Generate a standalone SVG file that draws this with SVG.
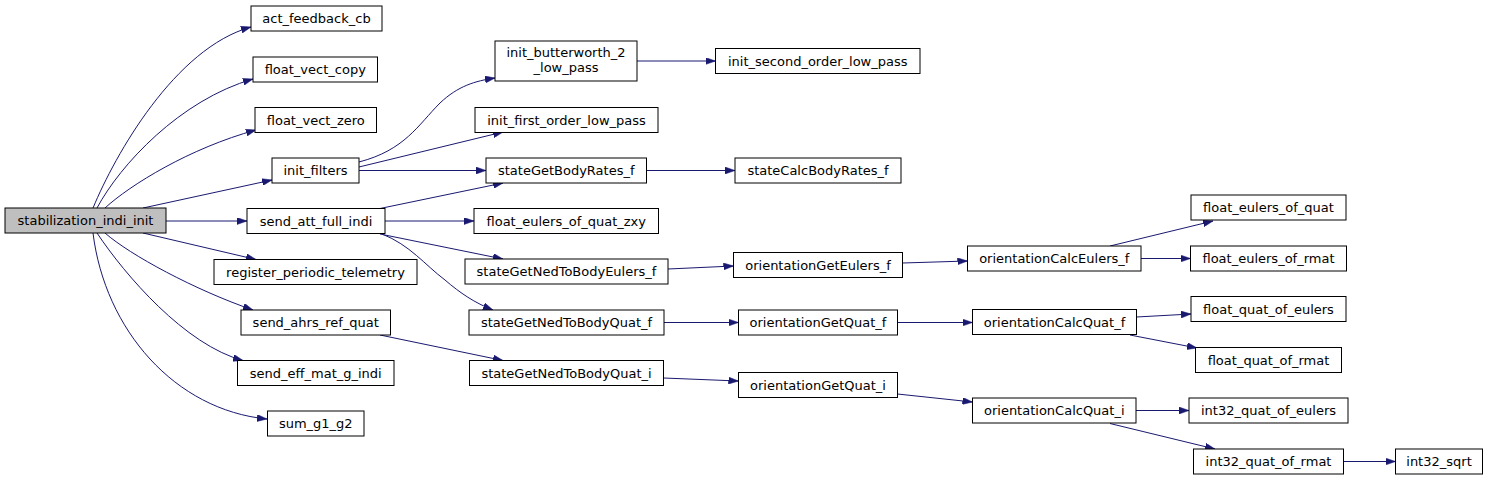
<svg xmlns="http://www.w3.org/2000/svg" width="1488" height="480" viewBox="0 0 1488 480">
<style>
.n rect{fill:#fff;stroke:#000;stroke-width:1}
.n.root rect{fill:#bfbfbf}
.n text{font-family:"DejaVu Sans","Liberation Sans",sans-serif;font-size:13px;fill:#000;text-anchor:middle}
.e path{fill:none;stroke:#191970;stroke-width:1;marker-end:url(#ah)}
</style>
<defs>
<marker id="ah" viewBox="0 0 10 7" refX="10" refY="3.5" markerWidth="10" markerHeight="7" orient="auto" markerUnits="userSpaceOnUse">
<path d="M0,0 L10,3.5 L0,7 z" fill="#191970" stroke="#191970" stroke-width="0.5"/>
</marker>
</defs>
<rect width="1488" height="480" fill="#fff"/>
<g id="edges" class="e">
<path d="M93,208 C115,155 175,48 251,27"/>
<path d="M97,208 C120,165 180,100 253,79"/>
<path d="M105,208 C130,185 190,148 256,130"/>
<path d="M143,208 L272,180"/>
<path d="M166,221 L247,221"/>
<path d="M143,233 L256,259.5"/>
<path d="M105,233 C130,255 195,290 253,310"/>
<path d="M97,233 C125,275 185,345 243,360.5"/>
<path d="M93,233 C105,330 175,410 267,419"/>
<path d="M359,162 C405,150 418,125 440,103 C458,86 475,81 495,78"/>
<path d="M359,167 L503,132"/>
<path d="M359,170.5 L486,170.5"/>
<path d="M380,208.5 L503,183"/>
<path d="M385,221 L474,221"/>
<path d="M380,234 L503,259"/>
<path d="M382,234 C410,245 425,265 445,280 C460,293 475,303 493,310"/>
<path d="M380,335 L503,360.5"/>
<path d="M637,61 L715.5,61"/>
<path d="M646.5,170.5 L735,170.5"/>
<path d="M668,269 L733.5,266"/>
<path d="M664,322.5 L738.5,322.5"/>
<path d="M663.5,378 L738.5,381"/>
<path d="M902.5,263 L967.5,261"/>
<path d="M897.5,322.5 L972.5,322.5"/>
<path d="M897.5,394 L972.5,402"/>
<path d="M1110,246 L1213,221"/>
<path d="M1141,258.5 L1190.5,258.5"/>
<path d="M1136.5,317 L1191,314"/>
<path d="M1130,335 L1197,348"/>
<path d="M1136,410.5 L1189,410.5"/>
<path d="M1110,423.5 L1215,449"/>
<path d="M1343.5,461.5 L1395.5,461.5"/>
</g>
<g id="stabilization_indi_init" class="n root"><rect x="5" y="208" width="161" height="25"/><text x="85.5" y="225">stabilization_indi_init</text></g>
<g id="act_feedback_cb" class="n"><rect x="251" y="6" width="131" height="25"/><text x="316.5" y="23">act_feedback_cb</text></g>
<g id="float_vect_copy" class="n"><rect x="253" y="57" width="124.5" height="25"/><text x="315.25" y="74">float_vect_copy</text></g>
<g id="float_vect_zero" class="n"><rect x="255" y="107.5" width="121.5" height="25"/><text x="315.75" y="124.5">float_vect_zero</text></g>
<g id="init_filters" class="n"><rect x="272" y="158" width="87" height="25"/><text x="315.5" y="175">init_filters</text></g>
<g id="send_att_full_indi" class="n"><rect x="247" y="208.5" width="138" height="25"/><text x="316" y="225.5">send_att_full_indi</text></g>
<g id="register_periodic_telemetry" class="n"><rect x="214" y="259.5" width="203" height="25"/><text x="315.5" y="276.5">register_periodic_telemetry</text></g>
<g id="send_ahrs_ref_quat" class="n"><rect x="241" y="310" width="149.5" height="25"/><text x="315.75" y="327">send_ahrs_ref_quat</text></g>
<g id="send_eff_mat_g_indi" class="n"><rect x="237.5" y="360.5" width="156.5" height="25"/><text x="315.75" y="377.5">send_eff_mat_g_indi</text></g>
<g id="sum_g1_g2" class="n"><rect x="267.5" y="411" width="96.5" height="25"/><text x="315.75" y="428">sum_g1_g2</text></g>
<g id="init_butterworth_2_low_pass" class="n"><rect x="495" y="41" width="142" height="40"/><text x="566" y="57">init_butterworth_2</text><text x="566" y="72">_low_pass</text></g>
<g id="init_first_order_low_pass" class="n"><rect x="475" y="107.5" width="183" height="25"/><text x="566.5" y="124.5">init_first_order_low_pass</text></g>
<g id="stateGetBodyRates_f" class="n"><rect x="486" y="158" width="160.5" height="25"/><text x="566.25" y="175">stateGetBodyRates_f</text></g>
<g id="float_eulers_of_quat_zxy" class="n"><rect x="474" y="208.5" width="184.5" height="25"/><text x="566.25" y="225.5">float_eulers_of_quat_zxy</text></g>
<g id="stateGetNedToBodyEulers_f" class="n"><rect x="465" y="259" width="203" height="25"/><text x="566.5" y="276">stateGetNedToBodyEulers_f</text></g>
<g id="stateGetNedToBodyQuat_f" class="n"><rect x="469" y="310" width="195" height="25"/><text x="566.5" y="327">stateGetNedToBodyQuat_f</text></g>
<g id="stateGetNedToBodyQuat_i" class="n"><rect x="469.5" y="360.5" width="194" height="25"/><text x="566.5" y="377.5">stateGetNedToBodyQuat_i</text></g>
<g id="init_second_order_low_pass" class="n"><rect x="715.5" y="48.5" width="204.5" height="25"/><text x="817.75" y="65.5">init_second_order_low_pass</text></g>
<g id="stateCalcBodyRates_f" class="n"><rect x="735" y="158" width="166" height="25"/><text x="818" y="175">stateCalcBodyRates_f</text></g>
<g id="orientationGetEulers_f" class="n"><rect x="733.5" y="252.5" width="169" height="25"/><text x="818" y="269.5">orientationGetEulers_f</text></g>
<g id="orientationGetQuat_f" class="n"><rect x="738.5" y="310" width="159" height="25"/><text x="818" y="327">orientationGetQuat_f</text></g>
<g id="orientationGetQuat_i" class="n"><rect x="738.5" y="372.5" width="159" height="25"/><text x="818" y="389.5">orientationGetQuat_i</text></g>
<g id="orientationCalcEulers_f" class="n"><rect x="967.5" y="246" width="173.5" height="25"/><text x="1054.25" y="263">orientationCalcEulers_f</text></g>
<g id="orientationCalcQuat_f" class="n"><rect x="972.5" y="309.5" width="164" height="25"/><text x="1054.5" y="326.5">orientationCalcQuat_f</text></g>
<g id="orientationCalcQuat_i" class="n"><rect x="972.5" y="398" width="163.5" height="25"/><text x="1054.25" y="415">orientationCalcQuat_i</text></g>
<g id="float_eulers_of_quat" class="n"><rect x="1191" y="195" width="155" height="25"/><text x="1268.5" y="212">float_eulers_of_quat</text></g>
<g id="float_eulers_of_rmat" class="n"><rect x="1190.5" y="246" width="156" height="25"/><text x="1268.5" y="263">float_eulers_of_rmat</text></g>
<g id="float_quat_of_eulers" class="n"><rect x="1191" y="296.5" width="155" height="25"/><text x="1268.5" y="313.5">float_quat_of_eulers</text></g>
<g id="float_quat_of_rmat" class="n"><rect x="1195.5" y="347.5" width="146" height="25"/><text x="1268.5" y="364.5">float_quat_of_rmat</text></g>
<g id="int32_quat_of_eulers" class="n"><rect x="1189" y="398" width="159" height="25"/><text x="1268.5" y="415">int32_quat_of_eulers</text></g>
<g id="int32_quat_of_rmat" class="n"><rect x="1193.5" y="449" width="150" height="25"/><text x="1268.5" y="466">int32_quat_of_rmat</text></g>
<g id="int32_sqrt" class="n"><rect x="1395.5" y="449" width="87" height="25"/><text x="1439" y="466">int32_sqrt</text></g>
</svg>
